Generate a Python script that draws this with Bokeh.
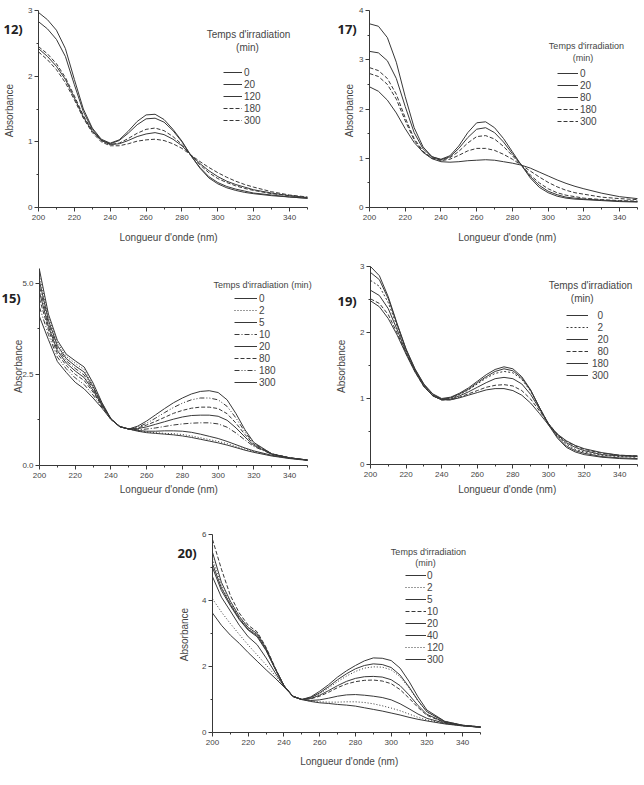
import math

from bokeh.plotting import figure
from bokeh.models import (Range1d, FixedTicker, Legend, LegendItem, Label,
                          NumeralTickFormatter, Spacer)
from bokeh.layouts import column, row
from bokeh.embed import file_html
from bokeh.resources import INLINE

# Wavelength grid (nm) shared by all spectra
WAVELENGTHS = [200, 205, 210, 215, 220, 225, 230, 235, 240, 245, 250, 255, 260,
               265, 270, 275, 280, 285, 290, 295, 300, 305, 310, 315, 320, 330,
               340, 350]

X_TICKS = [200, 220, 240, 260, 280, 300, 320, 340]
X_MINOR = [210, 230, 250, 270, 290, 310, 330, 350]

# ---- 12) irradiation times (min) and absorbance spectra
TIMES_12 = ["0", "20", "120", "180", "300"]
A12_0 = [2.97, 2.86, 2.70, 2.42, 1.95, 1.50, 1.21, 1.04, 0.98, 1.03, 1.16, 1.31, 1.41,
         1.42, 1.34, 1.19, 1.01, 0.79, 0.60, 0.45, 0.36, 0.30, 0.26, 0.23, 0.21, 0.18,
         0.16, 0.14]
A12_20 = [2.83, 2.72, 2.56, 2.30, 1.87, 1.46, 1.19, 1.03, 0.97, 1.02, 1.13, 1.26, 1.35,
          1.36, 1.30, 1.17, 1.00, 0.79, 0.61, 0.47, 0.38, 0.32, 0.28, 0.25, 0.22, 0.19,
          0.16, 0.14]
A12_120 = [2.42, 2.30, 2.15, 1.95, 1.67, 1.38, 1.16, 1.02, 0.96, 0.97, 1.02, 1.08, 1.12,
           1.14, 1.11, 1.04, 0.94, 0.80, 0.67, 0.56, 0.47, 0.40, 0.35, 0.31, 0.27, 0.22,
           0.18, 0.15]
A12_180 = [2.45, 2.34, 2.19, 1.98, 1.70, 1.40, 1.17, 1.02, 0.96, 0.98, 1.05, 1.13, 1.19,
           1.21, 1.17, 1.08, 0.96, 0.80, 0.65, 0.53, 0.44, 0.38, 0.33, 0.29, 0.26, 0.21,
           0.18, 0.15]
A12_300 = [2.37, 2.25, 2.10, 1.90, 1.64, 1.36, 1.14, 1.00, 0.94, 0.94, 0.97, 1.01, 1.03,
           1.04, 1.02, 0.97, 0.90, 0.80, 0.70, 0.61, 0.53, 0.46, 0.40, 0.35, 0.31, 0.24,
           0.19, 0.16]

# ---- 17)
TIMES_17 = ["0", "20", "80", "180", "300"]
A17_0 = [3.73, 3.68, 3.45, 2.95, 2.25, 1.62, 1.23, 1.03, 0.98, 1.05, 1.25, 1.52, 1.72,
         1.74, 1.62, 1.40, 1.13, 0.86, 0.60, 0.41, 0.30, 0.23, 0.19, 0.17, 0.16, 0.14,
         0.12, 0.11]
A17_20 = [3.17, 3.14, 2.98, 2.62, 2.05, 1.52, 1.19, 1.03, 0.97, 1.03, 1.20, 1.42, 1.59,
          1.62, 1.52, 1.33, 1.09, 0.86, 0.63, 0.45, 0.33, 0.26, 0.21, 0.19, 0.17, 0.15,
          0.13, 0.12]
A17_80 = [2.45, 2.36, 2.18, 1.92, 1.60, 1.32, 1.12, 0.99, 0.93, 0.92, 0.93, 0.95, 0.96,
          0.97, 0.96, 0.93, 0.90, 0.86, 0.80, 0.72, 0.64, 0.56, 0.49, 0.43, 0.38, 0.29,
          0.22, 0.18]
A17_180 = [2.84, 2.78, 2.62, 2.30, 1.82, 1.40, 1.14, 1.01, 0.96, 1.01, 1.14, 1.31, 1.44,
           1.46, 1.39, 1.24, 1.05, 0.86, 0.66, 0.50, 0.38, 0.30, 0.25, 0.22, 0.19, 0.16,
           0.14, 0.13]
A17_300 = [2.72, 2.66, 2.50, 2.20, 1.76, 1.37, 1.12, 1.00, 0.95, 0.98, 1.06, 1.15, 1.20,
           1.20, 1.16, 1.08, 0.98, 0.86, 0.74, 0.62, 0.51, 0.42, 0.35, 0.30, 0.27, 0.21,
           0.18, 0.16]

# ---- 15)
TIMES_15 = ["0", "2", "5", "10", "20", "80", "180", "300"]
A15_0 = [5.36, 4.15, 3.43, 3.05, 2.87, 2.70, 2.26, 1.72, 1.28, 1.06, 1.00, 0.94, 0.90,
         0.88, 0.86, 0.84, 0.81, 0.77, 0.72, 0.67, 0.62, 0.56, 0.49, 0.42, 0.36, 0.26,
         0.19, 0.14]
A15_2 = [5.21, 4.07, 3.36, 2.99, 2.80, 2.63, 2.21, 1.70, 1.28, 1.06, 1.00, 0.95, 0.92,
         0.90, 0.88, 0.87, 0.85, 0.81, 0.76, 0.71, 0.66, 0.60, 0.52, 0.45, 0.38, 0.27,
         0.20, 0.15]
A15_5 = [5.05, 3.98, 3.29, 2.93, 2.73, 2.56, 2.16, 1.68, 1.28, 1.06, 1.00, 0.96, 0.94,
         0.94, 0.95, 0.95, 0.94, 0.91, 0.86, 0.80, 0.74, 0.66, 0.57, 0.48, 0.40, 0.28,
         0.20, 0.15]
A15_10 = [4.90, 3.90, 3.22, 2.87, 2.66, 2.48, 2.11, 1.67, 1.27, 1.06, 1.00, 0.98, 1.00,
          1.03, 1.07, 1.11, 1.14, 1.16, 1.17, 1.17, 1.14, 1.05, 0.89, 0.70, 0.52, 0.31,
          0.21, 0.15]
A15_20 = [4.75, 3.81, 3.15, 2.81, 2.59, 2.41, 2.06, 1.65, 1.27, 1.06, 1.00, 1.01, 1.06,
          1.13, 1.20, 1.27, 1.33, 1.37, 1.38, 1.38, 1.35, 1.24, 1.03, 0.78, 0.55, 0.31,
          0.21, 0.15]
A15_80 = [4.57, 3.72, 3.07, 2.74, 2.50, 2.33, 2.01, 1.63, 1.27, 1.07, 1.00, 1.03, 1.11,
          1.21, 1.32, 1.43, 1.51, 1.57, 1.60, 1.60, 1.56, 1.42, 1.16, 0.85, 0.58, 0.32,
          0.21, 0.15]
A15_180 = [4.34, 3.59, 2.97, 2.65, 2.40, 2.22, 1.93, 1.60, 1.26, 1.07, 1.00, 1.05, 1.16,
           1.30, 1.45, 1.59, 1.71, 1.80, 1.85, 1.85, 1.80, 1.62, 1.30, 0.92, 0.60, 0.32,
           0.21, 0.15]
A15_300 = [4.08, 3.45, 2.85, 2.55, 2.28, 2.10, 1.85, 1.57, 1.26, 1.07, 1.00, 1.08, 1.22,
           1.39, 1.56, 1.72, 1.85, 1.96, 2.03, 2.05, 2.00, 1.80, 1.42, 0.98, 0.63, 0.32,
           0.21, 0.15]

# ---- 19)
TIMES_19 = ["\u00a0\u00a00", "\u00a0\u00a02", "\u00a0\u00a020", "\u00a0\u00a080",
            "180", "300"]
A19_0 = [3.00, 2.86, 2.54, 2.13, 1.75, 1.45, 1.22, 1.07, 1.00, 1.02, 1.08, 1.16, 1.26,
         1.36, 1.44, 1.48, 1.45, 1.33, 1.13, 0.86, 0.60, 0.40, 0.26, 0.19, 0.15, 0.11,
         0.09, 0.08]
A19_2 = [2.79, 2.70, 2.45, 2.09, 1.73, 1.43, 1.20, 1.05, 0.99, 1.00, 1.06, 1.13, 1.22,
         1.31, 1.38, 1.41, 1.39, 1.29, 1.11, 0.86, 0.62, 0.44, 0.31, 0.23, 0.19, 0.14,
         0.12, 0.11]
A19_20 = [2.91, 2.80, 2.51, 2.12, 1.74, 1.44, 1.21, 1.06, 0.99, 1.01, 1.07, 1.14, 1.24,
          1.33, 1.41, 1.45, 1.42, 1.31, 1.12, 0.86, 0.61, 0.42, 0.28, 0.21, 0.17, 0.12,
          0.10, 0.09]
A19_80 = [2.51, 2.44, 2.27, 1.99, 1.68, 1.41, 1.18, 1.04, 0.98, 0.98, 1.02, 1.07, 1.12,
          1.17, 1.20, 1.21, 1.19, 1.12, 0.99, 0.81, 0.62, 0.46, 0.35, 0.28, 0.23, 0.17,
          0.14, 0.13]
A19_180 = [2.64, 2.56, 2.36, 2.04, 1.70, 1.42, 1.19, 1.04, 0.98, 0.99, 1.04, 1.10, 1.17,
           1.24, 1.30, 1.32, 1.30, 1.22, 1.06, 0.84, 0.62, 0.45, 0.33, 0.26, 0.21, 0.15,
           0.13, 0.12]
A19_300 = [2.48, 2.39, 2.21, 1.96, 1.67, 1.40, 1.18, 1.04, 0.98, 0.98, 1.01, 1.05, 1.09,
           1.13, 1.15, 1.15, 1.12, 1.05, 0.93, 0.77, 0.60, 0.46, 0.36, 0.29, 0.24, 0.18,
           0.14, 0.13]

# ---- 20)
TIMES_20 = ["0", "2", "5", "10", "20", "40", "120", "300"]
A20_0 = [5.46, 4.55, 3.98, 3.52, 3.18, 3.00, 2.55, 1.95, 1.42, 1.09, 1.00, 0.94, 0.90,
         0.88, 0.85, 0.83, 0.80, 0.75, 0.70, 0.65, 0.59, 0.53, 0.46, 0.40, 0.35, 0.26,
         0.20, 0.16]
A20_2 = [5.26, 4.45, 3.92, 3.48, 3.15, 2.97, 2.53, 1.95, 1.42, 1.09, 1.00, 0.95, 0.93,
         0.92, 0.92, 0.93, 0.93, 0.91, 0.87, 0.81, 0.74, 0.66, 0.56, 0.46, 0.38, 0.27,
         0.20, 0.16]
A20_5 = [5.11, 4.38, 3.88, 3.45, 3.12, 2.94, 2.51, 1.94, 1.42, 1.09, 1.00, 0.97, 0.99,
         1.04, 1.10, 1.14, 1.15, 1.13, 1.10, 1.06, 0.99, 0.87, 0.72, 0.56, 0.43, 0.28,
         0.21, 0.16]
A20_10 = [5.85, 4.95, 4.15, 3.62, 3.25, 3.05, 2.58, 1.97, 1.42, 1.09, 1.00, 1.02, 1.10,
          1.22, 1.36, 1.47, 1.54, 1.58, 1.59, 1.56, 1.48, 1.30, 1.04, 0.76, 0.52, 0.30,
          0.21, 0.16]
A20_20 = [5.00, 4.30, 3.84, 3.42, 3.10, 2.90, 2.48, 1.93, 1.42, 1.10, 1.00, 1.03, 1.13,
          1.27, 1.42, 1.55, 1.64, 1.69, 1.70, 1.68, 1.60, 1.42, 1.14, 0.82, 0.55, 0.31,
          0.21, 0.16]
A20_40 = [4.72, 4.10, 3.68, 3.25, 2.90, 2.66, 2.26, 1.82, 1.40, 1.10, 1.00, 1.06, 1.20,
          1.39, 1.60, 1.78, 1.93, 2.03, 2.08, 2.06, 1.97, 1.74, 1.38, 0.97, 0.63, 0.33,
          0.22, 0.17]
A20_120 = [4.05, 3.65, 3.30, 2.97, 2.65, 2.35, 2.05, 1.73, 1.40, 1.10, 1.00, 1.05, 1.18,
           1.35, 1.54, 1.71, 1.85, 1.95, 1.99, 1.98, 1.90, 1.69, 1.35, 0.96, 0.62, 0.33,
           0.22, 0.17]
A20_300 = [3.62, 3.25, 2.95, 2.70, 2.42, 2.16, 1.90, 1.65, 1.38, 1.10, 1.00, 1.08, 1.25,
           1.45, 1.68, 1.87, 2.03, 2.17, 2.26, 2.25, 2.18, 1.95, 1.55, 1.08, 0.68, 0.34,
           0.22, 0.17]

FONT = "Liberation Sans"
INK = "#383838"
TEXT = "#454545"

SOLID = "solid"
DASH = "4 2"
FINE = "2 2"
DOT = "1 2"
DASHDOT = "5 2 1 2"
DASHDOTDOT = "5 2 1 2 1 2"


def build_panel(curves, ymax, yticks, yminor, size, axes_box, legend_at,
                glyph_w, label_gap, heading, tag_at, x_title_at, y_title_at,
                tag, y_format=None):
    """One spectrum panel.

    The plotting frame fills the whole figure; both axes are pinned at
    (200 nm, 0) so that tick labels, titles and the panel tag all sit inside
    the frame.  Positions below are pixels from the figure's top-left corner.
    """
    fig_w, fig_h = size
    ax_left, span, ax_bottom, height = axes_box
    nm_px = 150.0 / span
    a_px = ymax / height
    p = figure(frame_width=fig_w, frame_height=fig_h,
               min_border_left=0, min_border_right=0,
               min_border_top=0, min_border_bottom=0,
               x_range=Range1d(200 - ax_left * nm_px, 200 + (fig_w - ax_left) * nm_px),
               y_range=Range1d(-(fig_h - ax_bottom) * a_px, ax_bottom * a_px),
               output_backend="svg", toolbar_location=None)
    p.outline_line_color = None
    p.grid.visible = False
    p.background_fill_color = "white"
    p.border_fill_color = "white"

    p.xaxis.ticker = FixedTicker(ticks=X_TICKS, minor_ticks=X_MINOR)
    p.xaxis.bounds = (200, 350)
    p.xaxis.fixed_location = 0
    p.yaxis.ticker = FixedTicker(ticks=yticks, minor_ticks=yminor)
    p.yaxis.bounds = (0, ymax)
    p.yaxis.fixed_location = 200
    if y_format:
        p.yaxis.formatter = NumeralTickFormatter(format=y_format)
    p.xaxis.major_label_standoff = 3
    p.yaxis.major_label_standoff = 2
    for ax in (p.xaxis[0], p.yaxis[0]):
        ax.axis_line_color = INK
        ax.major_tick_line_color = INK
        ax.minor_tick_line_color = INK
        ax.major_tick_in = 0
        ax.major_tick_out = 4
        ax.minor_tick_in = 0
        ax.minor_tick_out = 2
        ax.major_label_text_font = FONT
        ax.major_label_text_font_size = "8px"
        ax.major_label_text_color = TEXT

    items = []
    for name, values, dash in curves:
        r = p.line(WAVELENGTHS, values, line_color=INK, line_width=1.0,
                   line_dash=dash)
        items.append(LegendItem(label=name, renderers=[r]))
    n = len(items)
    lx, ltop = legend_at
    legend = Legend(items=items, location=(lx, fig_h - (ltop + 12 * n)),
                    padding=0, margin=0, spacing=0, glyph_width=glyph_w,
                    glyph_height=12, label_height=12, label_standoff=label_gap,
                    border_line_alpha=0, background_fill_alpha=0,
                    label_text_font=FONT, label_text_font_size="10px",
                    label_text_color=TEXT)
    p.add_layout(legend)

    def note(text, x, y, font_size, align="center", angle=0.0, font=FONT,
             style="normal", color=TEXT):
        p.add_layout(Label(x=x, y=fig_h - y, x_units="screen", y_units="screen",
                           text=text, text_align=align, text_baseline="middle",
                           angle=angle, text_font=font, text_font_style=style,
                           text_font_size=font_size, text_color=color))

    for text, hx, hy, fs in heading:
        note(text, hx, hy, fs)
    note("Longueur d'onde (nm)", x_title_at[0], x_title_at[1], "10px")
    note("Absorbance", y_title_at[0], y_title_at[1], "10px", angle=math.pi / 2)
    note(tag, tag_at[0], tag_at[1], "13px", align="left", font="Open Sans",
         style="bold", color="#222222")
    return p


p12 = build_panel(
    list(zip(TIMES_12, [A12_0, A12_20, A12_120, A12_180, A12_300],
             [SOLID, SOLID, SOLID, DASH, DASH])),
    3, [0, 1, 2, 3], [0.5, 1.5, 2.5], (322, 255), (38, 269, 207, 197),
    (223, 66), 19, 2,
    [("Temps d'irradiation", 248, 34, "10px"), ("(min)", 247, 47, "10px")],
    (3, 28.5), (168, 237), (9, 110), "12)")

p17 = build_panel(
    list(zip(TIMES_17, [A17_0, A17_20, A17_80, A17_180, A17_300],
             [SOLID, SOLID, SOLID, DASH, DASH])),
    4, [0, 1, 2, 3, 4], [0.5, 1.5, 2.5, 3.5], (322, 255), (47, 268, 207, 197),
    (235, 67), 21, 2,
    [("Temps d'irradiation", 264, 45, "9px"), ("(min)", 260.5, 57, "9px")],
    (15, 28.5), (184.7, 237), (26.7, 110), "17)")

p15 = build_panel(
    list(zip(TIMES_15, [A15_0, A15_2, A15_5, A15_10, A15_20, A15_80, A15_180, A15_300],
             [SOLID, DOT, SOLID, DASHDOT, SOLID, DASH, DASHDOTDOT, SOLID])),
    5.4, [0, 2.5, 5.0], [1.25, 3.75], (322, 255), (39, 268, 210, 197),
    (234, 37), 23, 2,
    [("Temps d'irradiation (min)", 262, 29, "9px")],
    (1, 42.5), (168.3, 234.3), (18.3, 110.8), "15)", y_format="0.0")

p19 = build_panel(
    list(zip(TIMES_19, [A19_0, A19_2, A19_20, A19_80, A19_180, A19_300],
             [SOLID, FINE, SOLID, DASH, SOLID, SOLID])),
    3, [0, 1, 2, 3], [0.5, 1.5, 2.5], (322, 255), (48, 267, 209, 198),
    (244, 54), 22, 4,
    [("Temps d'irradiation", 268, 30, "10px"), ("(min)", 259.7, 43, "10px")],
    (15, 45), (184.7, 234.3), (19.2, 110.8), "19)")

p20 = build_panel(
    list(zip(TIMES_20, [A20_0, A20_2, A20_5, A20_10, A20_20, A20_40, A20_120, A20_300],
             [SOLID, DOT, SOLID, DASH, SOLID, SOLID, DOT, SOLID])),
    6, [0, 2, 4, 6], [1, 3, 5], (477, 275), (45, 268, 222, 198),
    (238, 59), 21, 1,
    [("Temps d'irradiation", 261, 41, "9px"), ("(min)", 258, 52, "9px")],
    (10, 42), (181.7, 251), (16.8, 124), "20)")

layout = column(row(p12, p17), row(p15, p19),
                row(Spacer(width=167, height=275), p20))

open("out.html", "w").write(file_html(layout, INLINE, title="Spectres UV"))
